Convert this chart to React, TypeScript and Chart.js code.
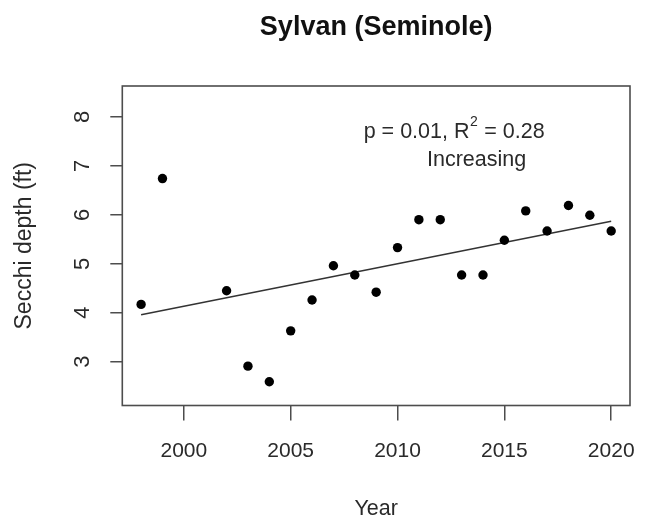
import { useEffect, useRef } from 'react';
import { Chart, registerables } from 'chart.js';

Chart.register(...registerables);

// ---- data ----
const YEARS = [1998, 1999, 2002, 2003, 2004, 2005, 2006, 2007, 2008, 2009, 2010, 2011, 2012, 2013, 2014, 2015, 2016, 2017, 2018, 2019, 2020];
const SECCHI_FT = [4.17, 6.74, 4.45, 2.91, 2.59, 3.63, 4.26, 4.96, 4.77, 4.42, 5.33, 5.9, 5.9, 4.77, 4.77, 5.48, 6.08, 5.67, 6.19, 5.99, 5.67];
const TREND_YEARS = [1998, 2020];
const TREND_FT = [3.96, 5.87];
const X_TICKS = [2000, 2005, 2010, 2015, 2020];
const Y_TICKS = [3, 4, 5, 6, 7, 8];
const TITLE = 'Sylvan (Seminole)';
const X_TITLE = 'Year';
const Y_TITLE = 'Secchi depth (ft)';
const STAT_PARTS = ['p = 0.01, R', '2', ' = 0.28'];
const TREND_LABEL = 'Increasing';

const REG = "'Liberation Sans', Arial, sans-serif";
const TEXT = '#2a2a2a';
const AXIS = '#4d4d4d';

const boxPlugin = {
  id: 'rbox',
  afterDatasetsDraw(chart: any) {
    const { ctx, chartArea: a } = chart;
    ctx.save();
    ctx.strokeStyle = AXIS;
    ctx.lineWidth = 1.6;
    ctx.strokeRect(a.left, a.top, a.right - a.left, a.bottom - a.top);
    ctx.restore();
  },
};

const annotPlugin = {
  id: 'annot',
  afterDraw(chart: any) {
    const { ctx } = chart;
    const xs = chart.scales.x;
    const ys = chart.scales.y;
    ctx.save();
    ctx.fillStyle = TEXT;
    ctx.textBaseline = 'middle';
    ctx.textAlign = 'left';
    const mainFont = `21.5px ${REG}`;
    const supFont = `14px ${REG}`;
    ctx.font = mainFont;
    const w1 = ctx.measureText(STAT_PARTS[0]).width;
    const w3 = ctx.measureText(STAT_PARTS[2]).width;
    ctx.font = supFont;
    const w2 = ctx.measureText(STAT_PARTS[1]).width + 1;
    const total = w1 + w2 + w3;
    const cx = xs.getPixelForValue(2012.65);
    const cy = ys.getPixelForValue(7.69);
    let x = cx - total / 2;
    ctx.font = mainFont;
    ctx.fillText(STAT_PARTS[0], x, cy);
    x += w1;
    ctx.font = supFont;
    ctx.fillText(STAT_PARTS[1], x + 0.5, cy - 10);
    x += w2;
    ctx.font = mainFont;
    ctx.fillText(STAT_PARTS[2], x, cy);
    ctx.textAlign = 'center';
    ctx.fillText(TREND_LABEL, xs.getPixelForValue(2013.7), ys.getPixelForValue(7.12));
    ctx.restore();
  },
};

export default function App() {
  const ref = useRef<HTMLCanvasElement | null>(null);
  useEffect(() => {
    if (!ref.current) return;
    const chart = new Chart(ref.current, {
      type: 'scatter',
      data: {
        datasets: [
          {
            data: YEARS.map((y, i) => ({ x: y, y: SECCHI_FT[i] })),
            backgroundColor: '#000',
            borderColor: '#000',
            pointRadius: 4.7,
            pointHoverRadius: 4.7,
            borderWidth: 0,
          },
          {
            data: TREND_YEARS.map((y, i) => ({ x: y, y: TREND_FT[i] })),
            showLine: true,
            borderColor: '#333',
            borderWidth: 1.5,
            pointRadius: 0,
            pointHoverRadius: 0,
          } as any,
        ],
      },
      options: {
        animation: false,
        responsive: false,
        events: [],
        layout: { padding: { top: 0, right: 16, bottom: 0, left: 0 } },
        plugins: {
          legend: { display: false },
          tooltip: { enabled: false },
          title: {
            display: true,
            text: TITLE,
            fullSize: false,
            color: '#111',
            font: { family: REG, size: 27, weight: 'bold', lineHeight: 1 },
            padding: { top: 14, bottom: 45 },
          },
        },
        scales: {
          x: {
            type: 'linear',
            min: 1997.12,
            max: 2020.88,
            afterBuildTicks: (s: any) => {
              s.ticks = X_TICKS.map((v) => ({ value: v }));
            },
            afterFit: (s: any) => {
              s.height = 115.5;
              s.paddingLeft = 0;
              s.paddingRight = 0;
            },
            grid: { display: true, drawOnChartArea: false, drawTicks: true, tickLength: 15, color: AXIS, lineWidth: 1.5 },
            border: { display: false },
            ticks: {
              color: TEXT,
              font: { family: REG, size: 21, lineHeight: 1 },
              padding: 20,
              maxRotation: 0,
              minRotation: 0,
              callback: (v: any) => String(v),
            },
            title: {
              display: true,
              text: X_TITLE,
              color: TEXT,
              font: { family: REG, size: 21.5, lineHeight: 1 },
              padding: { top: 0, bottom: 1 },
            },
          },
          y: {
            type: 'linear',
            min: 2.106,
            max: 8.63,
            afterBuildTicks: (s: any) => {
              s.ticks = Y_TICKS.map((v) => ({ value: v }));
            },
            afterFit: (s: any) => {
              s.width = 122.3;
              s.paddingTop = 0;
              s.paddingBottom = 0;
            },
            grid: { display: true, drawOnChartArea: false, drawTicks: true, tickLength: 12, color: AXIS, lineWidth: 1.5 },
            border: { display: false },
            ticks: {
              color: TEXT,
              font: { family: REG, size: 22, lineHeight: 1 },
              padding: 21,
              minRotation: 90,
              maxRotation: 90,
              crossAlign: 'center',
              callback: (v: any) => String(v),
            },
            title: {
              display: true,
              text: Y_TITLE,
              color: TEXT,
              font: { family: REG, size: 23, lineHeight: 1 },
              padding: { top: 13, bottom: 0 },
            },
          },
        },
      } as any,
      plugins: [boxPlugin, annotPlugin],
    });
    return () => chart.destroy();
  }, []);
  return (
    <div style={{ position: 'absolute', left: 0, top: 0, width: 646, height: 521, background: '#fff' }}>
      <canvas ref={ref} width={646} height={521} style={{ display: 'block' }} />
    </div>
  );
}
